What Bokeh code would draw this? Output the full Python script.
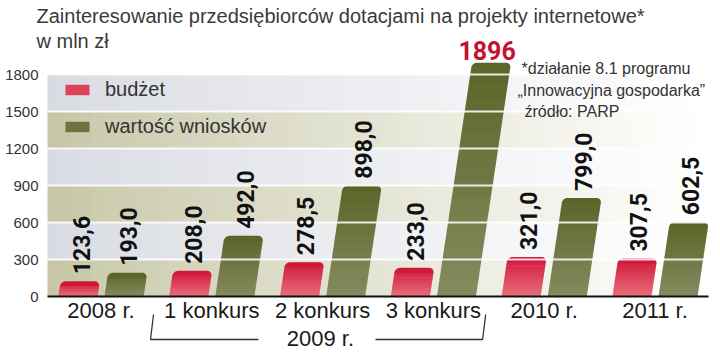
import numpy as np
from bokeh.plotting import figure
from bokeh.models import Range1d, FixedTicker, Legend, LegendItem
from bokeh.core.properties import value
from bokeh.embed import file_html
from bokeh.resources import INLINE

# ---------------- data ----------------
title_lines = ["Zainteresowanie przedsiębiorców dotacjami na projekty internetowe*", "w mln zł"]
categories = ["2008 r.", "1 konkurs", "2 konkurs", "3 konkurs", "2010 r.", "2011 r."]
group_label = "2009 r."
group_members = [1, 2, 3]
series_names = ["budżet", "wartość wniosków"]
budzet = [123.6, 208.0, 278.5, 233.0, 321.0, 307.5]
wartosc = [193.0, 492.0, 898.0, 1896.0, 799.0, 602.5]
y_ticks = [0, 300, 600, 900, 1200, 1500, 1800]
footnote = ["*działanie 8.1 programu", "„Innowacyjna gospodarka”", " źródło: PARP"]

# ---------------- layout helpers ----------------
W, H = 720, 352
FRAME_LEFT = 47
PXU = 110.8        # px per category unit
X0 = 100.5         # px of first category centre
PXV = 0.12333      # px per value unit
Y0 = 296           # px of value 0


def xd(px):
    return (px - X0) / PXU


def yd(py):
    return (Y0 - py) / PXV


def hex2rgb(h):
    h = h.lstrip("#")
    return tuple(int(h[i:i + 2], 16) for i in (0, 2, 4))


def mix(c1, c2, t):
    a, b = hex2rgb(c1), hex2rgb(c2)
    return "#%02x%02x%02x" % tuple(int(round(x + (y - x) * t)) for x, y in zip(a, b))


FONT = "Liberation Sans"
FONT_BOLD = "Roboto"
TEXT_COL = "#333333"

p = figure(width=W, height=H,
           x_range=Range1d(xd(0), xd(W)),
           y_range=Range1d(yd(H), yd(0)),
           x_axis_location=None, y_axis_location="left",
           output_backend="svg", toolbar_location=None, tools="",
           min_border=0,
           outline_line_color=None,
           background_fill_color="white", border_fill_color="white")
p.xgrid.visible = False
p.ygrid.visible = False

# ---------------- background bands ----------------
band_cols = ["#c6c6a6", "#d8dbe2"]
n_strips = 60
edges_px = np.linspace(FRAME_LEFT, 712, n_strips + 1)
bl, br, bb, bt, bc = [], [], [], [], []
for j in range(len(y_ticks) - 1):
    base = band_cols[j % 2]
    for k in range(n_strips):
        t = min(1.0, ((edges_px[k] + edges_px[k + 1]) / 2 - FRAME_LEFT) / (705 - FRAME_LEFT))
        bl.append(xd(edges_px[k]))
        br.append(xd(min(edges_px[k + 1] + 0.6, 712)))
        bb.append(y_ticks[j])
        bt.append(y_ticks[j + 1])
        bc.append(mix(base, "#ffffff", t ** 0.9))
p.quad(left=bl, right=br, bottom=bb, top=bt, fill_color=bc, line_color=None)

# ---------------- slanted bars ----------------
BAR_OFF = [(-0.384, -0.032), (0.032, 0.384)]
SLANT = 0.15 * PXV / PXU
RX, RY = 5.0 / PXU, 5.0 / PXV
bar_cols = [("#d2183a", "#e8707c"), ("#5c6428", "#868b60")]
series = [budzet, wartosc]
renderers = []
legend_idx = []
for s, vals in enumerate(series):
    xs, ys, cols = [], [], []
    top_col, bot_col = bar_cols[s]
    for i, v in enumerate(vals):
        xl, xr = i + BAR_OFF[s][0], i + BAR_OFF[s][1]
        cap = v - RY
        n = 14
        e = np.linspace(0, cap, n + 1)
        ov = 0.7 / PXV
        for k in range(n):
            a, b = e[k], min(e[k + 1] + ov, v)
            t = ((a + b) / 2) / v
            xs.append([xl + SLANT * a, xr + SLANT * a, xr + SLANT * b, xl + SLANT * b])
            ys.append([a, a, b, b])
            cols.append(mix(bot_col, top_col, t))
        th = np.linspace(0, np.pi / 2, 8)
        ux = [xl, xr] + list(xr - RX + RX * np.cos(th)) + list(xl + RX + RX * np.cos(th + np.pi / 2))
        uy = [cap, cap] + list(cap + RY * np.sin(th)) + list(cap + RY * np.sin(th + np.pi / 2))
        if i == 0:
            legend_idx.append(len(xs) - 4)
        xs.append([x + SLANT * y for x, y in zip(ux, uy)])
        ys.append(uy)
        cols.append(top_col)
    r = p.patches(xs=xs, ys=ys, fill_color=cols, line_color=None)
    renderers.append(r)

# grid lines over bars
p.segment(x0=[xd(FRAME_LEFT)] * 6, y0=y_ticks[1:], x1=[xd(712)] * 6, y1=y_ticks[1:],
          line_color="white", line_width=2, line_alpha=0.85)

# baseline
p.segment(x0=[xd(FRAME_LEFT)], y0=[0], x1=[xd(708)], y1=[0], line_color="#111111", line_width=2)

# ---------------- value labels ----------------
hi = int(np.argmax(wartosc))
for s, vals in enumerate(series):
    lx, ly, lt = [], [], []
    for i, v in enumerate(vals):
        ctr = i + (BAR_OFF[s][0] + BAR_OFF[s][1]) / 2 + SLANT * v
        if s == 1 and i == hi:
            p.text(x=[ctr - 0.04], y=[v + 3 / PXV], text=[str(int(round(v)))],
                   text_align="center", text_baseline="bottom",
                   text_font=value(FONT_BOLD), text_font_style="bold",
                   text_font_size="25px", text_color="#c5122f")
            continue
        lx.append(ctr + 0.01)
        ly.append(v + 7 / PXV)
        lt.append(f"{v:.1f}".replace(".", ","))
    p.text(x=lx, y=ly, text=lt, angle=np.pi / 2, text_align="left", text_baseline="middle",
           text_font=value(FONT_BOLD), text_font_style="bold",
           text_font_size="23px", text_color="#111111")

# ---------------- category labels ----------------
p.text(x=list(range(len(categories))), y=[yd(310)] * len(categories), text=categories,
       text_align="center", text_baseline="middle",
       text_font=value(FONT), text_font_size="22px", text_color="#1a1a1a")
gc = float(np.mean(group_members))
p.text(x=[gc - 0.02], y=[yd(338)], text=[group_label], text_align="center", text_baseline="middle",
       text_font=value(FONT), text_font_size="22px", text_color="#1a1a1a")
g0, g1 = group_members[0], group_members[-1]
p.line(x=[g0 - 0.526, g0 - 0.553, g0 + 0.421], y=[yd(314), yd(339), yd(339)],
       line_color="#333333", line_width=1.3)
p.line(x=[g1 - 0.523, g1 + 0.444, g1 + 0.472], y=[yd(339), yd(339), yd(314)],
       line_color="#333333", line_width=1.3)

# ---------------- footnote ----------------
p.text(x=[xd(521), xd(517), xd(524)], y=[yd(68), yd(90), yd(111)], text=footnote,
       text_align="left", text_baseline="middle",
       text_font=value(FONT), text_font_size="16px", text_color=TEXT_COL)

# ---------------- title ----------------
p.text(x=[xd(36), xd(36)], y=[yd(15), yd(40)], text=title_lines,
       text_align="left", text_baseline="middle",
       text_font=value(FONT), text_font_size="20px", text_color="#3a3a3a")

# ---------------- y axis ----------------
ax = p.yaxis[0]
ax.fixed_location = xd(FRAME_LEFT)
ax.ticker = FixedTicker(ticks=y_ticks)
ax.axis_line_color = None
ax.major_tick_line_color = None
ax.minor_tick_line_color = None
ax.major_tick_out = 0
ax.major_tick_in = 0
ax.major_label_standoff = 9
ax.major_label_text_font = FONT
ax.major_label_text_font_size = "15px"
ax.major_label_text_color = TEXT_COL

# ---------------- legend ----------------
legend = Legend(items=[LegendItem(label=series_names[s], renderers=[renderers[s]], index=legend_idx[s])
                       for s in range(2)],
                location=(62, 214), orientation="vertical",
                glyph_width=30, glyph_height=13, label_standoff=13, spacing=14,
                label_height=20, padding=0, margin=0,
                background_fill_alpha=0, border_line_color=None,
                label_text_font=FONT, label_text_font_size="20px",
                label_text_color=TEXT_COL, label_text_baseline="middle")
p.add_layout(legend)

open("out.html", "w").write(file_html(p, INLINE))
